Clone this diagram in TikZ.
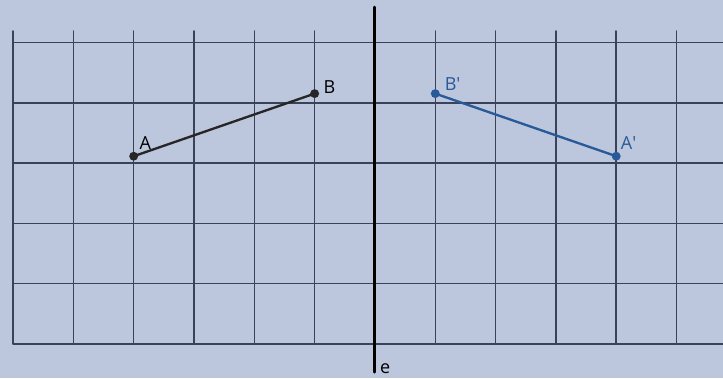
\documentclass[tikz,border=0pt]{standalone}
\usepackage{fontspec}
\setmainfont{Open Sans}
\definecolor{paper}{RGB}{188,199,222}
\definecolor{gridc}{RGB}{58,66,90}
\definecolor{refl}{RGB}{40,90,152}
\tikzset{
	lbl/.style={inner sep=0pt, anchor=south west},
	dot/.style={circle, fill, inner sep=0pt, minimum size=4.2pt}
}
\begin{document}
\begin{tikzpicture}[x=1cm, y=1.038cm, font=\fontsize{8.5}{10}\selectfont, line join=round, line cap=round]
	\def\xmin{-0.216}\def\xmax{11.77}\def\ymin{-0.543}\def\ymax{5.495}
	\fill[paper] (\xmin,\ymin) rectangle (\xmax,\ymax);
	\useasboundingbox (\xmin,\ymin) rectangle (\xmax,\ymax);
	\draw[gridc, line width=0.7pt] (0,0) grid (\xmax,5);
	\path
	(2,3) coordinate (A)
	(5,4) coordinate (B)
	(10,3) coordinate (A1)
	(7,4) coordinate (B1)
	(6,5.38) coordinate (eTop)
	(6,-0.45) coordinate (eBot)
	;
	% axis e
	\draw[black, line width=1.4pt] (eTop) -- (eBot);
	\node[inner sep=1pt] (lblE) at (6.17,-0.40) {e};
	% segment AB and its image
	\draw[black!85, line width=1.1pt] (A) -- (B);
	\draw[refl, line width=1.1pt] (B1) -- (A1);
	\node[dot, black!85] (dA) at (A) {};
	\node[dot, black!85] (dB) at (B) {};
	\node[dot, refl] (dA1) at (A1) {};
	\node[dot, refl] (dB1) at (B1) {};
	\node[lbl, xshift=0.09cm, yshift=0.1cm] (labA) at (A) {A};
	\node[lbl, xshift=0.14cm] (labB) at (B) {B};
	\node[lbl, refl, xshift=0.15cm, yshift=0.05cm] (labB1) at (B1) {B′};
	\node[lbl, refl, xshift=0.07cm, yshift=0.1cm] (labA1) at (A1) {A′};
\end{tikzpicture}
\end{document}
